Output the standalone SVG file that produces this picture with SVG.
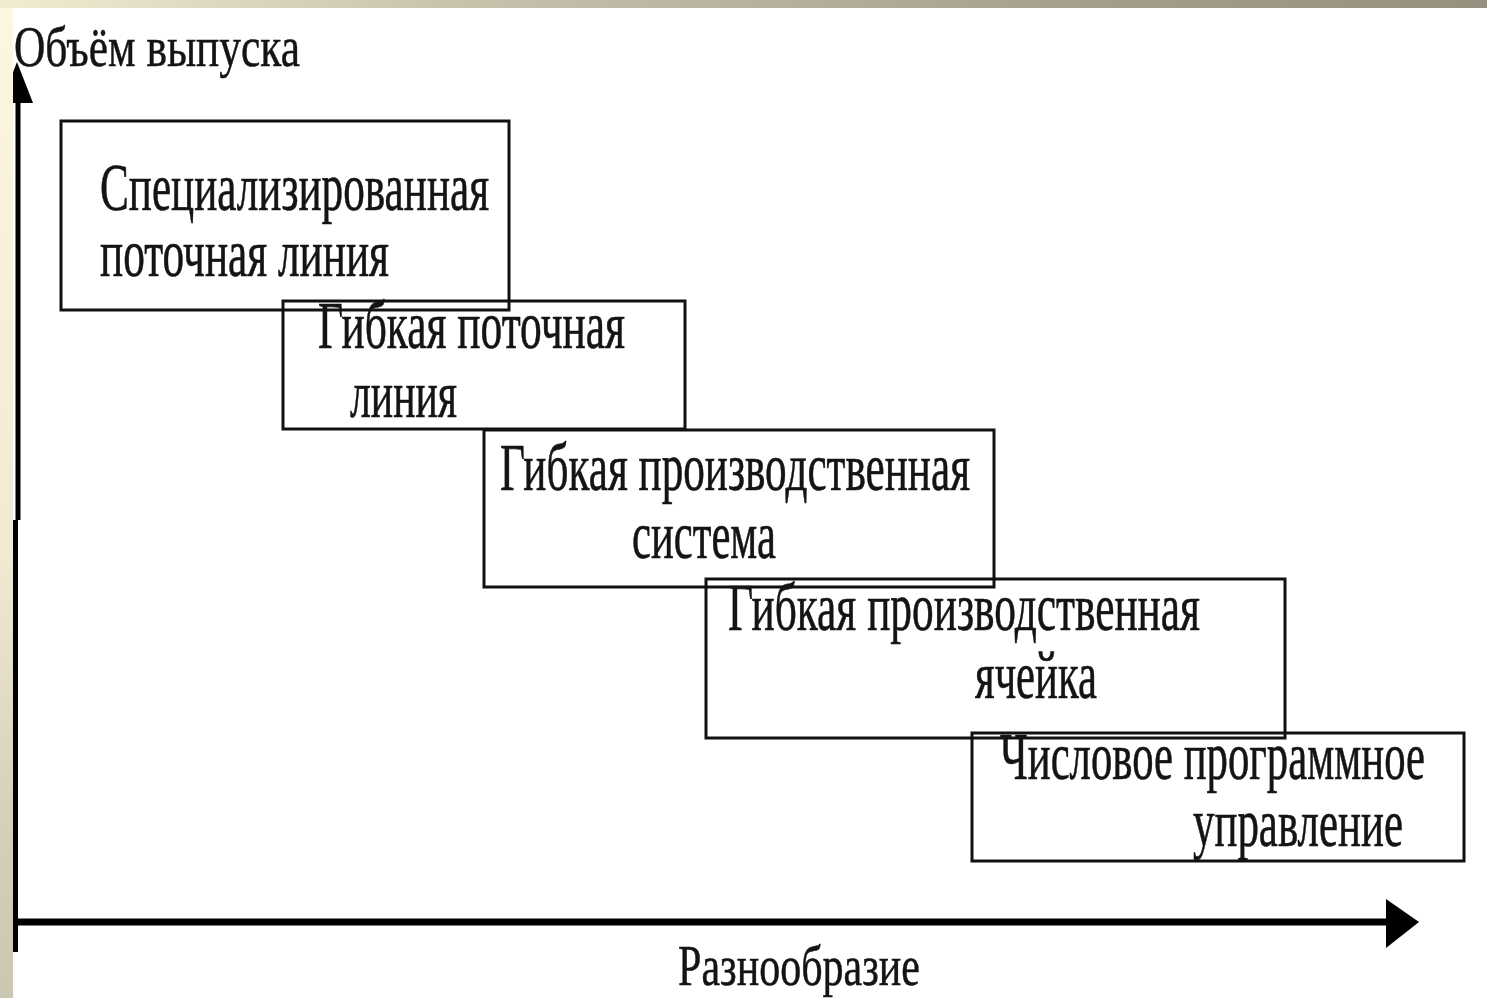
<svg xmlns="http://www.w3.org/2000/svg" width="1487" height="998" viewBox="0 0 1487 998">
<defs>
<linearGradient id="topg" x1="0" y1="0" x2="1" y2="0">
<stop offset="0" stop-color="#f2ecd2"/>
<stop offset="0.3" stop-color="#c8c3ad"/>
<stop offset="0.75" stop-color="#a39e8c"/>
<stop offset="1" stop-color="#96917f"/>
</linearGradient>
<linearGradient id="leftg" x1="0" y1="0" x2="0" y2="1">
<stop offset="0" stop-color="#fcf7df"/>
<stop offset="0.55" stop-color="#f1ebd2"/>
<stop offset="0.82" stop-color="#d5d0ba"/>
<stop offset="1" stop-color="#cbc7b1"/>
</linearGradient>
<style>
.box{fill:none;stroke:#111;stroke-width:3}
.t{font-family:"Liberation Serif","Times New Roman",serif;font-size:67px;fill:#141414;stroke:#141414;stroke-width:0.6}
.ax{font-family:"Liberation Serif","Times New Roman",serif;font-size:58px;fill:#141414;stroke:#141414;stroke-width:0.5}
.axis{stroke:#000;fill:none}
</style>
</defs>
<rect x="0" y="0" width="1487" height="998" fill="#ffffff"/>
<g id="connectors">
<path class="axis" d="M18 95 V520 M15.5 520 V952" stroke-width="5"/>
<polygon points="17,62 33,103 1,103" fill="#000"/>
<line class="axis" x1="13" y1="922" x2="1390" y2="922" stroke-width="7"/>
<polygon points="1386,899 1419,922 1386,948" fill="#000"/>
</g>
<rect x="0" y="0" width="13" height="998" fill="url(#leftg)"/>
<rect x="0" y="0" width="1487" height="8" fill="url(#topg)"/>
<g id="label-y"><text class="ax" x="14" y="66" textLength="286" lengthAdjust="spacingAndGlyphs">Объём выпуска</text></g>
<g id="label-x"><text class="ax" x="678" y="985" textLength="242" lengthAdjust="spacingAndGlyphs">Разнообразие</text></g>
<g id="node1">
<rect class="box" x="61" y="121" width="448" height="189"/>
<text class="t" x="100" y="210" textLength="389" lengthAdjust="spacingAndGlyphs">Специализированная</text>
<text class="t" x="100" y="276" textLength="289" lengthAdjust="spacingAndGlyphs">поточная линия</text>
</g>
<g id="node2">
<rect class="box" x="283" y="301" width="402" height="128"/>
<text class="t" x="318" y="348" textLength="307" lengthAdjust="spacingAndGlyphs">Гибкая поточная</text>
<text class="t" x="350" y="417" textLength="107" lengthAdjust="spacingAndGlyphs">линия</text>
</g>
<g id="node3">
<rect class="box" x="484" y="430" width="510" height="157"/>
<text class="t" x="500" y="490" textLength="470" lengthAdjust="spacingAndGlyphs">Гибкая производственная</text>
<text class="t" x="632" y="558" textLength="144" lengthAdjust="spacingAndGlyphs">система</text>
</g>
<g id="node4">
<rect class="box" x="706" y="579" width="579" height="159"/>
<text class="t" x="728" y="630" textLength="472" lengthAdjust="spacingAndGlyphs">Гибкая производственная</text>
<text class="t" x="975" y="698" textLength="122" lengthAdjust="spacingAndGlyphs">ячейка</text>
</g>
<g id="node5">
<rect class="box" x="972" y="733" width="492" height="128"/>
<text class="t" x="1000" y="779" textLength="425" lengthAdjust="spacingAndGlyphs">Числовое программное</text>
<text class="t" x="1193" y="846" textLength="210" lengthAdjust="spacingAndGlyphs">управление</text>
</g>
</svg>
